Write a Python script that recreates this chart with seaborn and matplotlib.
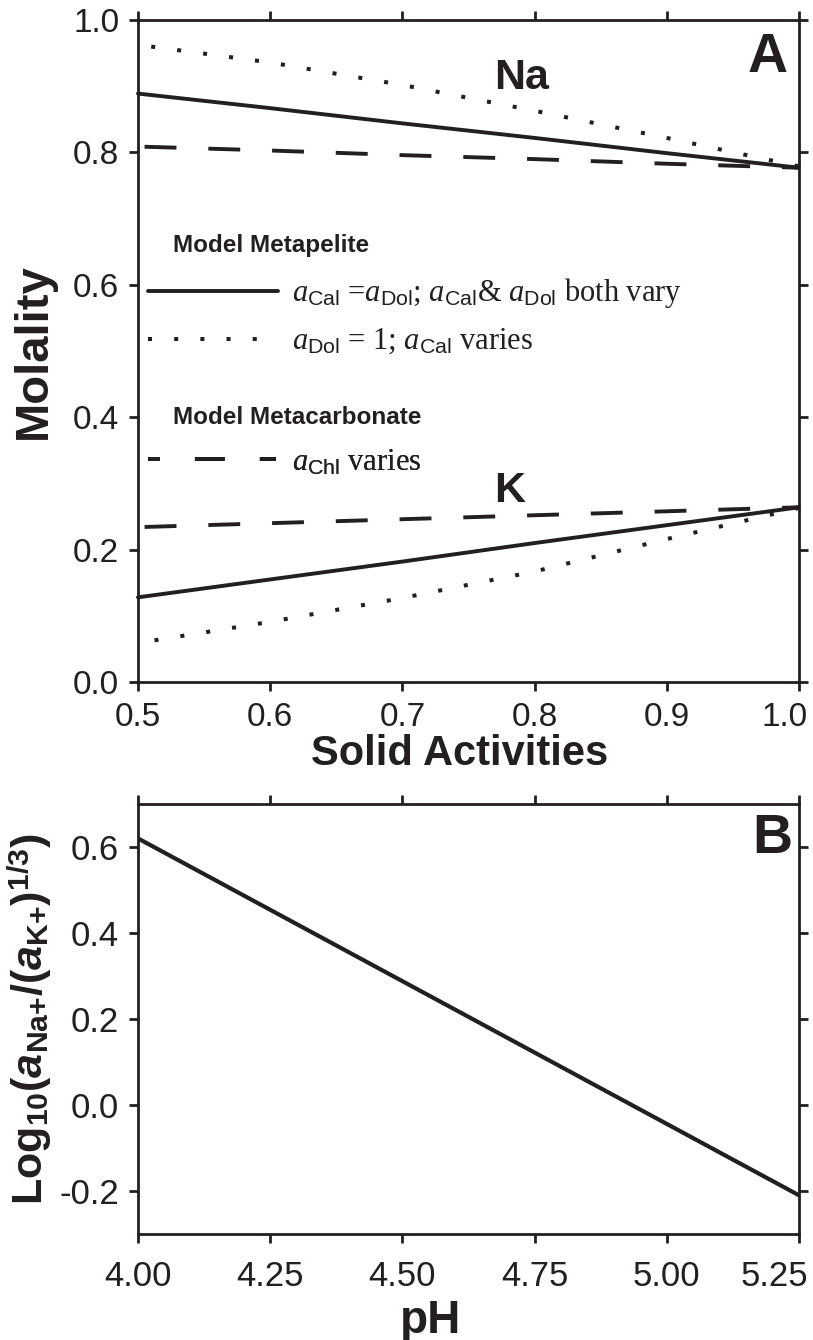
import numpy as np
import pandas as pd
import seaborn as sns
import matplotlib.pyplot as plt
import matplotlib.transforms as mtransforms
from matplotlib.lines import Line2D

# panel A: molality vs solid activities
act_x = [0.5, 0.6, 0.7, 0.8, 0.9, 1.0]
dot_x = [0.51, 0.6, 0.7, 0.8, 0.9, 1.0]
dot_xk = [0.5125, 0.6, 0.7, 0.8, 0.9, 1.0]
na_solid = [0.889, 0.867, 0.844, 0.822, 0.799, 0.777]
na_dashed = [0.809, 0.803, 0.796, 0.790, 0.783, 0.777]
na_dotted = [0.960, 0.936, 0.902, 0.863, 0.822, 0.779]
k_solid = [0.128, 0.155, 0.182, 0.210, 0.237, 0.264]
k_dashed = [0.234, 0.240, 0.246, 0.252, 0.258, 0.264]
k_dotted = [0.063, 0.091, 0.127, 0.167, 0.216, 0.263]

# panel B: log ratio vs pH
ph = [4.0, 5.25]
log_ratio = [0.62, -0.21]

ink = '#231f20'
sans = ['Liberation Sans', 'DejaVu Sans']

sns.set_theme(style='ticks')
plt.rcParams['font.family'] = sans
plt.rcParams['axes.unicode_minus'] = False
plt.rcParams['mathtext.fontset'] = 'custom'
plt.rcParams['mathtext.rm'] = 'Liberation Serif'
plt.rcParams['mathtext.it'] = 'Liberation Serif:italic'
plt.rcParams['mathtext.sf'] = 'Liberation Sans'
plt.rcParams['mathtext.bf'] = 'Liberation Sans:bold'
plt.rcParams['mathtext.bfit'] = 'Liberation Sans:italic:bold'
plt.rcParams['axes.edgecolor'] = ink
plt.rcParams['axes.linewidth'] = 2

lw = 2.8
solid = '-'
dotted = (0, (1, 5.5))
dashed = (14.7, (8.2, 8.2))

fig = plt.figure(figsize=(8.13, 13.4), dpi=100)
axA = fig.add_axes([0.1697, 0.4910, 0.8131, 0.4940])
axB = fig.add_axes([0.1697, 0.0791, 0.8131, 0.3209])

series = [
    (act_x, na_solid, solid), (act_x, na_dashed, dashed), (dot_x, na_dotted, dotted),
    (act_x, k_solid, solid), (act_x, k_dashed, dashed), (dot_xk, k_dotted, dotted),
]
for xs, ys, ls in series:
    lwi = 2.9 if ls is dotted else lw
    sns.lineplot(x=xs, y=ys, ax=axA, color=ink, lw=lwi, linestyle=ls,
                 dash_capstyle='butt', clip_on=False)

axA.set_xlim(0.5, 1.0)
axA.set_ylim(0.0, 1.0)
axA.set_xticks(np.arange(0.5, 1.01, 0.1))
axA.set_yticks(np.arange(0.0, 1.01, 0.2))
axA.xaxis.set_major_formatter('{x:.1f}')
axA.yaxis.set_major_formatter('{x:.1f}')
axA.tick_params(direction='out', length=6.5, width=2, color=ink, top=True, right=True,
                labelsize=24, labelcolor=ink)
axA.tick_params(axis='x', pad=8)
axA.tick_params(axis='y', pad=7)
axA.set_xlabel('Solid Activities', fontsize=30, fontweight='bold', color=ink)
axA.xaxis.set_label_coords(0.486, -0.079)
axA.set_ylabel('Molality', fontsize=34, fontweight='bold', color=ink, labelpad=12)

axA.text(0.79, 0.913, 'Na', fontsize=31, fontweight='bold',
         ha='center', va='center', color=ink)
axA.text(0.781, 0.289, 'K', fontsize=31, fontweight='bold',
         ha='center', va='center', color=ink)
axA.text(0.953, 0.942, 'A', fontsize=40, fontweight='bold',
         ha='center', va='center', color=ink, transform=axA.transAxes)

# legend block
axA.text(0.053, 0.660, 'Model Metapelite', fontsize=17.5, fontweight='bold',
         ha='left', va='center', color=ink, transform=axA.transAxes)
axA.text(0.053, 0.399, 'Model Metacarbonate', fontsize=17.5, fontweight='bold',
         ha='left', va='center', color=ink, transform=axA.transAxes)

entries = [
    (solid, 2.8, r'$a_{\mathsf{Cal}}$ =$a_{\mathsf{Dol}}$; $a_{\mathsf{Cal}}$& $a_{\mathsf{Dol}}$ both vary', 4.25, 0.46, 0.587),
    (dotted, 2.9, r'$a_{\mathsf{Dol}}$ = 1; $a_{\mathsf{Cal}}$ varies', 3.75, 0.95, 0.514),
    ((4.64, (7.7, 9.0)), 2.8, r'$a_{\mathsf{Chl}}$ varies', 4.2, 0.5, 0.332),
]
for ls, w, label, hl, pad, yy in entries:
    h = Line2D([], [], color=ink, lw=w, linestyle=ls, dash_capstyle='butt')
    leg = axA.legend([h], [label], loc='center left', bbox_to_anchor=(0.0, yy),
                     frameon=False, handlelength=hl, handletextpad=pad,
                     borderpad=0, borderaxespad=0.33,
                     prop={'family': 'Liberation Serif', 'size': 22})
    for t in leg.get_texts():
        t.set_color(ink)
    axA.add_artist(leg)

# panel B
sns.lineplot(x=ph, y=log_ratio, ax=axB, color=ink, lw=3.0)
axB.set_xlim(4.0, 5.25)
axB.set_ylim(-0.3, 0.7)
axB.set_xticks(np.arange(4.0, 5.26, 0.25))
axB.set_yticks(np.arange(-0.2, 0.61, 0.2))
axB.xaxis.set_major_formatter('{x:.2f}')
axB.yaxis.set_major_formatter('{x:.1f}')
axB.tick_params(direction='out', length=6.5, width=2, color=ink, top=True, right=True,
                labelsize=25, labelcolor=ink)
axB.tick_params(axis='x', pad=12)
axB.tick_params(axis='y', pad=7)
axB.set_xlabel('pH', fontsize=33, fontweight='bold', color=ink)
axB.xaxis.set_label_coords(0.442, -0.15)
axB.set_ylabel(r'$\mathbf{Log}_{\mathbf{10}}\mathbf{(}\mathbfit{a}_{\mathbf{Na{+}}}\mathbf{/(}'
               r'\mathbfit{a}_{\mathbf{K{+}}}\mathbf{)}^{\mathbf{1/3}}\mathbf{)}$',
               fontsize=31, color=ink, labelpad=4)
axB.text(0.959, 0.918, 'B', fontsize=40, fontweight='bold',
         ha='center', va='center', color=ink, transform=axB.transAxes)

# the last x tick labels sit left of their ticks, inside the figure
for ax, shift in ((axA, -14), (axB, -25)):
    lab = ax.get_xticklabels()[-1]
    lab.set_transform(lab.get_transform() +
                      mtransforms.ScaledTranslation(shift / 100, 0, fig.dpi_scale_trans))

fig.savefig('out.png', dpi=100)
